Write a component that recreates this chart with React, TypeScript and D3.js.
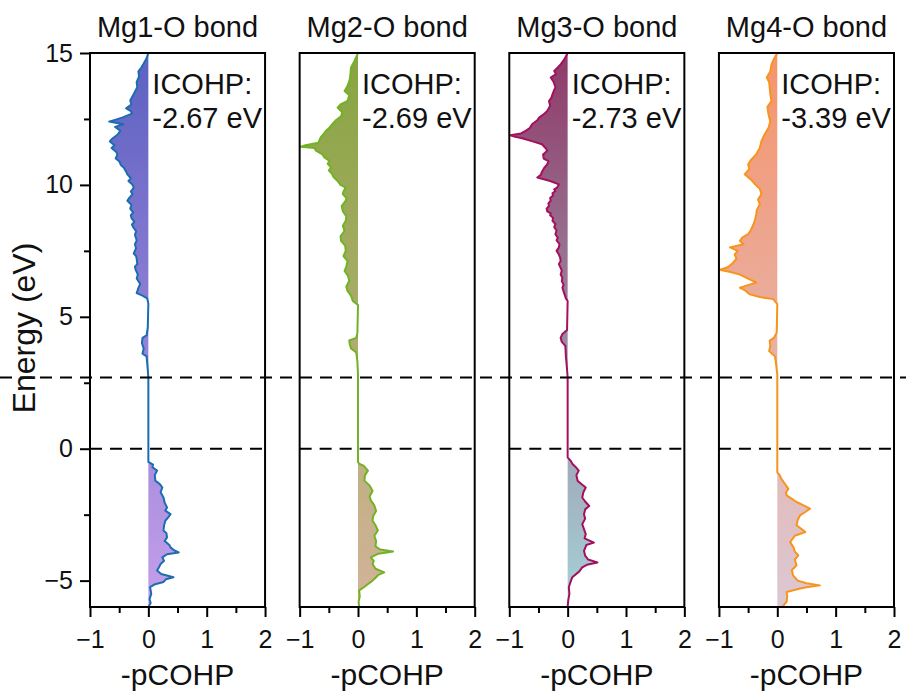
import React, { useRef, useEffect } from "react";
import * as d3 from "d3";

// panel titles and integrated COHP labels
const bonds = ["Mg1-O bond", "Mg2-O bond", "Mg3-O bond", "Mg4-O bond"];
const icohp = ["-2.67 eV", "-2.69 eV", "-2.73 eV", "-3.39 eV"];

// [energy (eV), -pCOHP]
const mg1: [number, number][] = [
  [15, 0], [14.8, -0.03], [14.6, -0.08], [14.45, -0.12], [14.3, -0.17], [14.1, -0.16], [13.9, -0.2], [13.7, -0.19],
  [13.45, -0.25], [13.2, -0.31], [13.05, -0.29], [12.9, -0.38], [12.8, -0.3], [12.7, -0.28], [12.55, -0.45], [12.4, -0.67],
  [12.3, -0.43], [12.2, -0.57], [12.05, -0.48], [11.9, -0.53], [11.75, -0.62], [11.65, -0.66], [11.5, -0.58], [11.4, -0.63],
  [11.25, -0.55], [11.15, -0.53], [11.0, -0.56], [10.9, -0.5], [10.75, -0.47], [10.65, -0.42], [10.5, -0.38], [10.4, -0.36],
  [10.25, -0.3], [10.15, -0.34], [10.0, -0.27], [9.9, -0.25], [9.75, -0.3], [9.65, -0.27], [9.5, -0.33], [9.4, -0.36],
  [9.25, -0.29], [9.1, -0.31], [8.95, -0.26], [8.85, -0.3], [8.75, -0.29], [8.6, -0.24], [8.5, -0.28], [8.4, -0.26],
  [8.25, -0.21], [8.1, -0.23], [7.9, -0.2], [7.75, -0.23], [7.6, -0.21], [7.4, -0.25], [7.3, -0.21], [7.2, -0.2],
  [7.0, -0.19], [6.9, -0.23], [6.8, -0.22], [6.6, -0.18], [6.45, -0.2], [6.25, -0.14], [6.1, -0.17], [5.9, -0.2],
  [5.8, -0.1], [5.7, -0.02], [5.5, 0], [4.6, -0.01], [4.3, -0.03], [4.2, -0.1], [4.0, -0.11], [3.8, -0.08],
  [3.6, -0.1], [3.5, -0.03], [3.0, -0.01], [2.7, 0], [-0.5, 0], [-0.6, 0.08], [-0.7, 0.07], [-0.83, 0.15],
  [-1.0, 0.11], [-1.21, 0.12], [-1.35, 0.2], [-1.47, 0.24], [-1.65, 0.21], [-1.85, 0.26], [-2.05, 0.28], [-2.23, 0.32],
  [-2.35, 0.29], [-2.48, 0.38], [-2.6, 0.34], [-2.73, 0.29], [-2.9, 0.27], [-3.1, 0.26], [-3.2, 0.31], [-3.36, 0.32],
  [-3.5, 0.28], [-3.65, 0.36], [-3.74, 0.38], [-3.85, 0.44], [-3.93, 0.52], [-4.0, 0.32], [-4.12, 0.24], [-4.25, 0.27],
  [-4.37, 0.21], [-4.5, 0.18], [-4.62, 0.15], [-4.75, 0.22], [-4.87, 0.43], [-4.95, 0.3], [-5.05, 0.26], [-5.15, 0.1],
  [-5.25, 0.03], [-5.5, 0.05], [-5.7, 0.02], [-5.85, 0.04], [-6, 0],
];

const mg2: [number, number][] = [
  [15, 0], [14.85, -0.03], [14.7, -0.06], [14.45, -0.12], [14.2, -0.13], [14.0, -0.14], [13.75, -0.18], [13.56, -0.23],
  [13.4, -0.15], [13.18, -0.18], [13.05, -0.3], [12.93, -0.35], [12.75, -0.27], [12.6, -0.29], [12.45, -0.38], [12.3, -0.44],
  [12.15, -0.5], [12.05, -0.55], [11.9, -0.6], [11.8, -0.64], [11.6, -0.68], [11.5, -0.9], [11.45, -0.98], [11.4, -0.75],
  [11.3, -0.72], [11.16, -0.61], [11.05, -0.58], [10.91, -0.49], [10.8, -0.52], [10.66, -0.46], [10.55, -0.5], [10.4, -0.44],
  [10.3, -0.42], [10.15, -0.35], [10.0, -0.3], [9.9, -0.21], [9.75, -0.25], [9.65, -0.26], [9.5, -0.2], [9.4, -0.21],
  [9.2, -0.28], [9.0, -0.26], [8.8, -0.2], [8.64, -0.21], [8.45, -0.26], [8.26, -0.23], [8.05, -0.3], [7.88, -0.29],
  [7.7, -0.22], [7.5, -0.21], [7.3, -0.25], [7.12, -0.18], [6.9, -0.2], [6.74, -0.23], [6.55, -0.17], [6.36, -0.15],
  [6.15, -0.2], [5.98, -0.18], [5.8, -0.12], [5.6, -0.09], [5.45, 0], [4.4, -0.01], [4.2, -0.03], [4.1, -0.15],
  [3.95, -0.14], [3.8, -0.12], [3.65, -0.03], [3.3, -0.01], [2.8, 0], [-0.5, 0], [-0.57, 0.02], [-0.65, 0.1],
  [-0.83, 0.17], [-1.0, 0.12], [-1.21, 0.11], [-1.4, 0.2], [-1.6, 0.25], [-1.8, 0.2], [-1.96, 0.22], [-2.15, 0.28],
  [-2.36, 0.31], [-2.55, 0.26], [-2.73, 0.25], [-2.9, 0.3], [-3.1, 0.34], [-3.3, 0.28], [-3.5, 0.31], [-3.7, 0.3],
  [-3.82, 0.38], [-3.9, 0.6], [-3.98, 0.35], [-4.12, 0.22], [-4.25, 0.27], [-4.37, 0.25], [-4.55, 0.3], [-4.69, 0.45],
  [-4.78, 0.35], [-4.87, 0.31], [-5.0, 0.25], [-5.1, 0.19], [-5.25, 0.1], [-5.37, 0.02], [-5.6, 0.03], [-5.8, 0.01], [-6, 0.02],
];

const mg3: [number, number][] = [
  [15, 0], [14.75, -0.06], [14.57, -0.12], [14.45, -0.17], [14.32, -0.23], [14.2, -0.2], [14.07, -0.29], [13.9, -0.24],
  [13.7, -0.21], [13.55, -0.24], [13.43, -0.26], [13.3, -0.28], [13.18, -0.32], [13.0, -0.3], [12.8, -0.35], [12.7, -0.4],
  [12.55, -0.49], [12.45, -0.52], [12.3, -0.61], [12.15, -0.65], [12.05, -0.72], [11.95, -0.8], [11.88, -0.98], [11.82, -0.9],
  [11.77, -0.78], [11.65, -0.6], [11.54, -0.44], [11.4, -0.38], [11.3, -0.35], [11.15, -0.42], [11.0, -0.41], [10.9, -0.33],
  [10.78, -0.35], [10.65, -0.4], [10.5, -0.44], [10.38, -0.46], [10.28, -0.52], [10.15, -0.3], [10.02, -0.15], [9.9, -0.18],
  [9.83, -0.23], [9.77, -0.21], [9.68, -0.26], [9.6, -0.25], [9.5, -0.3], [9.4, -0.29], [9.3, -0.33], [9.2, -0.32],
  [9.1, -0.36], [9.0, -0.35], [8.92, -0.29], [8.85, -0.3], [8.75, -0.25], [8.64, -0.26], [8.52, -0.21], [8.4, -0.23],
  [8.27, -0.19], [8.13, -0.21], [8.0, -0.17], [7.9, -0.19], [7.76, -0.14], [7.63, -0.15], [7.5, -0.19], [7.4, -0.16],
  [7.25, -0.13], [7.12, -0.12], [7.0, -0.15], [6.9, -0.13], [6.75, -0.1], [6.6, -0.12], [6.48, -0.09], [6.35, -0.1],
  [6.22, -0.07], [6.1, -0.09], [5.9, -0.06], [5.7, -0.03], [5.6, 0], [4.5, -0.01], [4.35, -0.09], [4.2, -0.12],
  [4.05, -0.1], [3.9, -0.04], [3.5, -0.03], [3.0, -0.01], [2.7, 0], [-0.33, 0], [-0.45, 0.05], [-0.57, 0.08],
  [-0.7, 0.14], [-0.83, 0.19], [-1.0, 0.15], [-1.21, 0.17], [-1.35, 0.24], [-1.47, 0.31], [-1.65, 0.27], [-1.85, 0.25],
  [-2.0, 0.3], [-2.17, 0.37], [-2.3, 0.3], [-2.48, 0.28], [-2.65, 0.3], [-2.86, 0.25], [-3.05, 0.28], [-3.24, 0.31],
  [-3.4, 0.29], [-3.56, 0.45], [-3.65, 0.32], [-3.87, 0.28], [-4.05, 0.3], [-4.2, 0.35], [-4.31, 0.51], [-4.4, 0.33],
  [-4.5, 0.25], [-4.65, 0.2], [-4.87, 0.08], [-5.05, 0.05], [-5.25, 0.02], [-5.5, 0.03], [-5.75, 0.01], [-6, 0],
];

const mg4: [number, number][] = [
  [15, 0], [14.8, -0.05], [14.57, -0.1], [14.3, -0.12], [14.07, -0.18], [13.9, -0.14], [13.7, -0.13], [13.45, -0.12],
  [13.18, -0.1], [12.95, -0.17], [12.67, -0.15], [12.4, -0.12], [12.17, -0.15], [11.9, -0.22], [11.67, -0.27], [11.4, -0.3],
  [11.16, -0.36], [10.95, -0.45], [10.78, -0.5], [10.6, -0.48], [10.4, -0.56], [10.2, -0.45], [10.02, -0.38], [9.85, -0.3],
  [9.65, -0.27], [9.45, -0.33], [9.27, -0.3], [9.05, -0.35], [8.89, -0.36], [8.7, -0.38], [8.5, -0.41], [8.3, -0.45],
  [8.13, -0.5], [8.0, -0.6], [7.88, -0.64], [7.75, -0.58], [7.63, -0.81], [7.5, -0.68], [7.37, -0.73], [7.2, -0.7],
  [7.0, -0.78], [6.88, -0.85], [6.78, -0.99], [6.7, -0.8], [6.6, -0.64], [6.45, -0.5], [6.3, -0.36], [6.2, -0.5],
  [6.1, -0.64], [6.0, -0.55], [5.85, -0.47], [5.75, -0.3], [5.67, -0.07], [5.48, 0], [4.4, -0.01], [4.2, -0.06],
  [4.1, -0.13], [3.9, -0.12], [3.7, -0.14], [3.5, -0.04], [3.2, -0.02], [2.8, 0], [-0.9, 0], [-1.0, 0.04],
  [-1.14, 0.07], [-1.3, 0.12], [-1.52, 0.19], [-1.65, 0.15], [-1.77, 0.16], [-1.9, 0.25], [-2.02, 0.33], [-2.15, 0.45],
  [-2.27, 0.56], [-2.4, 0.48], [-2.53, 0.39], [-2.7, 0.35], [-2.9, 0.33], [-3.05, 0.42], [-3.16, 0.48], [-3.3, 0.3],
  [-3.54, 0.22], [-3.75, 0.28], [-3.9, 0.3], [-4.04, 0.36], [-4.2, 0.3], [-4.42, 0.33], [-4.6, 0.25], [-4.8, 0.27],
  [-5.0, 0.35], [-5.1, 0.5], [-5.18, 0.73], [-5.25, 0.5], [-5.3, 0.39], [-5.43, 0.16], [-5.6, 0.17], [-5.8, 0.16],
  [-5.9, 0.12], [-6, 0.1],
];

const xTicks = [-1, 0, 1, 2];
const xMinor = [-0.5, 0.5, 1.5];
const yTicks = [-5, 0, 5, 10, 15];
const yMinor = [-2.5, 2.5, 7.5, 12.5];
const cbmEnergy = 2.7; // upper dashed line
const vbmEnergy = 0; // lower dashed line

const lineColors = ["#1c6cb2", "#72b226", "#a3115e", "#f7941d"];
const fillTop = ["#5c61c1", "#86a53f", "#8f3a68", "#f6946c"];
const fillBottom = ["#c59fea", "#d4b39a", "#a6d3d8", "#dcc8d4"];

const FONT = "'Liberation Sans', Arial, sans-serif";

const App = () => {
  const svgRef = useRef<SVGSVGElement>(null);

  useEffect(() => {
    const width = 906;
    const height = 695;
    const top = 53;
    const bottom = 607;
    const panels = [mg1, mg2, mg3, mg4];

    const svg = d3.select(svgRef.current);
    svg.selectAll("*").remove();
    svg.attr("width", width).attr("height", height);

    const band = d3
      .scaleBand<number>()
      .domain([0, 1, 2, 3])
      .range([90, 894])
      .paddingInner(0.165)
      .paddingOuter(0);

    const y = d3.scaleLinear().domain([-6, 15]).range([bottom, top]);
    const defs = svg.append("defs");

    panels.forEach((data, i) => {
      const left = band(i)!;
      const x = d3.scaleLinear().domain([-1, 2]).range([left, left + band.bandwidth()]);

      const grad = defs
        .append("linearGradient")
        .attr("id", `grad${i}`)
        .attr("gradientUnits", "userSpaceOnUse")
        .attr("x1", 0)
        .attr("x2", 0)
        .attr("y1", y(15))
        .attr("y2", y(-6));
      grad.append("stop").attr("offset", 0).attr("stop-color", fillTop[i]);
      grad.append("stop").attr("offset", 1).attr("stop-color", fillBottom[i]);

      defs
        .append("clipPath")
        .attr("id", `clip${i}`)
        .append("rect")
        .attr("x", x(-1))
        .attr("y", top)
        .attr("width", band.bandwidth())
        .attr("height", bottom - top);

      const g = svg.append("g");

      const area = d3
        .area<[number, number]>()
        .x0(x(0))
        .x1((d) => x(d[1]))
        .y((d) => y(d[0]));
      const line = d3
        .line<[number, number]>()
        .x((d) => x(d[1]))
        .y((d) => y(d[0]));

      g.append("path")
        .attr("d", area(data))
        .attr("fill", `url(#grad${i})`)
        .attr("clip-path", `url(#clip${i})`);
      g.append("path")
        .attr("d", line(data))
        .attr("fill", "none")
        .attr("stroke", lineColors[i])
        .attr("stroke-width", 2)
        .attr("stroke-linejoin", "round")
        .attr("clip-path", `url(#clip${i})`);

      g.append("line")
        .attr("x1", x(-1))
        .attr("x2", x(2) - 3)
        .attr("y1", y(vbmEnergy))
        .attr("y2", y(vbmEnergy))
        .attr("stroke", "#000")
        .attr("stroke-width", 2)
        .attr("stroke-dasharray", "12,8");

      g.append("rect")
        .attr("x", x(-1))
        .attr("y", top)
        .attr("width", band.bandwidth())
        .attr("height", bottom - top)
        .attr("fill", "none")
        .attr("stroke", "#000")
        .attr("stroke-width", 2);

      const xAxis = g
        .append("g")
        .attr("transform", `translate(0,${bottom})`)
        .call(d3.axisBottom(x).tickValues(xTicks).tickSize(10).tickPadding(13).tickFormat(d3.format("d")));
      g.append("g")
        .attr("transform", `translate(0,${bottom})`)
        .call(d3.axisBottom(x).tickValues(xMinor).tickSize(6).tickFormat(() => ""))
        .call((a) => a.select(".domain").remove())
        .selectAll("line")
        .attr("stroke-width", 2);
      xAxis.select(".domain").remove();
      xAxis.selectAll("line").attr("stroke-width", 2);
      xAxis.selectAll("text").attr("font-size", 25).attr("font-family", FONT).attr("fill", "#111");

      if (i === 0) {
        const yAxis = g
          .append("g")
          .attr("transform", `translate(${left},0)`)
          .call(d3.axisLeft(y).tickValues(yTicks).tickSize(10).tickPadding(7));
        yAxis.select(".domain").remove();
        yAxis.selectAll("line").attr("stroke-width", 2);
        yAxis.selectAll("text").attr("font-size", 25).attr("font-family", FONT).attr("fill", "#111");
        g.append("g")
          .attr("transform", `translate(${left},0)`)
          .call(d3.axisLeft(y).tickValues(yMinor).tickSize(6).tickFormat(() => ""))
          .call((a) => a.select(".domain").remove())
          .selectAll("line")
          .attr("stroke-width", 2);
      }

      const cx = left + band.bandwidth() / 2;
      g.append("text")
        .attr("x", cx)
        .attr("y", 37)
        .attr("text-anchor", "middle")
        .attr("font-family", FONT)
        .attr("font-size", 29)
        .attr("fill", "#111")
        .text(bonds[i]);

      g.append("text")
        .attr("x", cx)
        .attr("y", 685)
        .attr("text-anchor", "middle")
        .attr("font-family", FONT)
        .attr("font-size", 30)
        .attr("fill", "#111")
        .text("-pCOHP");

      const note = g
        .append("text")
        .attr("font-family", FONT)
        .attr("font-size", 29)
        .attr("fill", "#111");
      note.append("tspan").attr("x", x(0) + 4).attr("y", 94).text("ICOHP:");
      note.append("tspan").attr("x", x(0) + 4).attr("y", 128).text(icohp[i]);
    });

    svg
      .append("line")
      .attr("x1", 0)
      .attr("x2", width)
      .attr("y1", y(cbmEnergy))
      .attr("y2", y(cbmEnergy))
      .attr("stroke", "#000")
      .attr("stroke-width", 2)
      .attr("stroke-dasharray", "12,8");

    svg
      .append("text")
      .attr("transform", `translate(35,${328}) rotate(-90)`)
      .attr("text-anchor", "middle")
      .attr("font-family", FONT)
      .attr("font-size", 32)
      .attr("fill", "#111")
      .text("Energy (eV)");
  }, []);

  return (
    <svg
      ref={svgRef}
      style={{ position: "absolute", left: 0, top: 0, background: "#fff" }}
    />
  );
};

export default App;
